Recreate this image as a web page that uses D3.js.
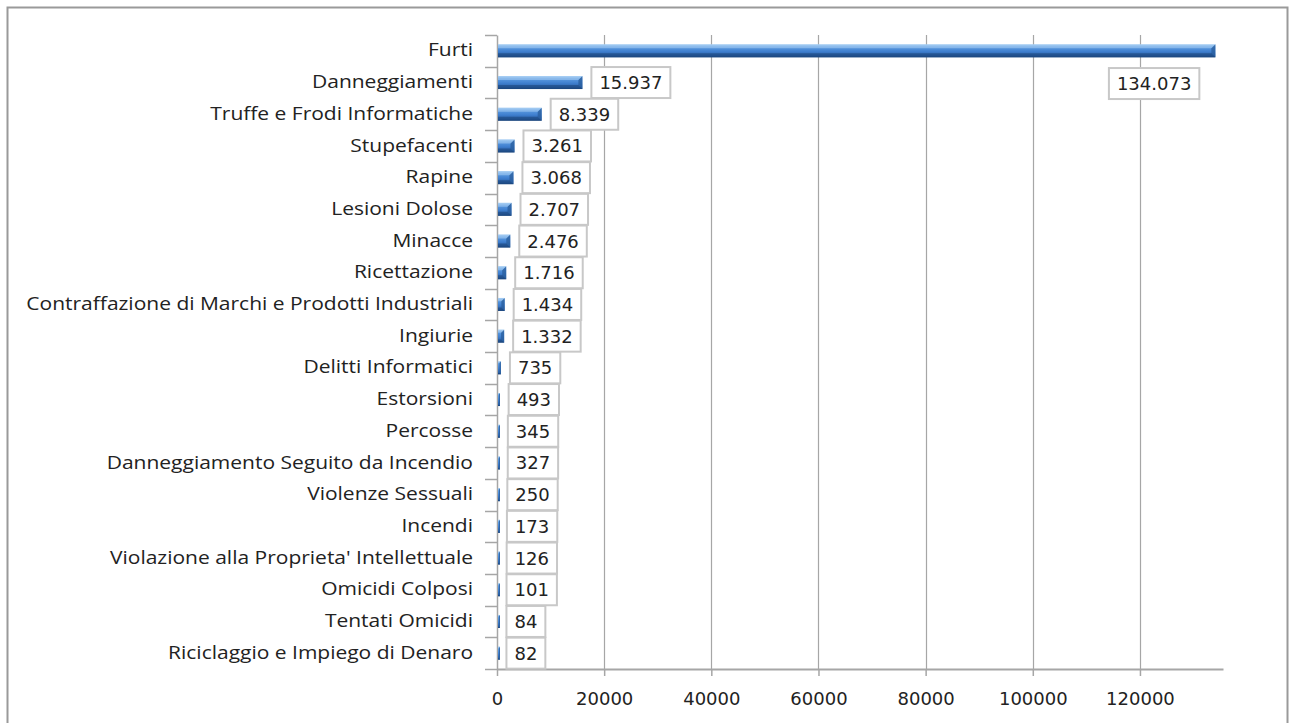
<!DOCTYPE html>
<html><head><meta charset="utf-8">
<script src="https://cdn.jsdelivr.net/npm/d3@7"></script>
<style>body{margin:0;background:#fff}svg{display:block}</style>
</head><body>
<script>
const categories = ["Furti","Danneggiamenti","Truffe e Frodi Informatiche","Stupefacenti","Rapine","Lesioni Dolose","Minacce ","Ricettazione","Contraffazione di Marchi e Prodotti Industriali","Ingiurie","Delitti Informatici","Estorsioni","Percosse","Danneggiamento Seguito da Incendio","Violenze Sessuali","Incendi","Violazione alla Proprieta' Intellettuale","Omicidi Colposi","Tentati Omicidi","Riciclaggio e Impiego di Denaro"];
const values = [134073,15937,8339,3261,3068,2707,2476,1716,1434,1332,735,493,345,327,250,173,126,101,84,82];
const valueLabels = ["134.073","15.937","8.339","3.261","3.068","2.707","2.476","1.716","1.434","1.332","735","493","345","327","250","173","126","101","84","82"];
const xTicks = [0,20000,40000,60000,80000,100000,120000];

const W=1289,H=723;
const svg=d3.select("body").append("svg").attr("width",W).attr("height",H);
const defs=svg.append("defs");
const g1=defs.append("linearGradient").attr("id","barG").attr("x1",0).attr("y1",0).attr("x2",0).attr("y2",1);
[[0,"#9cc8f2"],[0.2,"#5b9ae0"],[0.55,"#3f7fcf"],[0.85,"#2c62a8"],[1,"#1d4a85"]].forEach(s=>g1.append("stop").attr("offset",s[0]).attr("stop-color",s[1]));

// frame
svg.append("rect").attr("x",7.5).attr("y",7.5).attr("width",1280).attr("height",730).attr("fill","#fff").attr("stroke","#9a9a9a").attr("stroke-width",2);

const x=d3.scaleLinear().domain([0,135500]).range([497,1223]);
const y=d3.scaleBand().domain(categories).range([35,669]);

// gridlines
svg.append("g").selectAll("line").data(xTicks.slice(1)).join("line")
  .attr("x1",d=>Math.round(x(d))+0.5).attr("x2",d=>Math.round(x(d))+0.5)
  .attr("y1",35).attr("y2",669).attr("stroke","#a6a6a6").attr("stroke-width",1.2);

// x axis
const xa=svg.append("g").attr("transform","translate(0,669)")
  .call(d3.axisBottom(x).tickValues(xTicks).tickFormat(d3.format("d")).tickSize(7).tickSizeOuter(0));
xa.select(".domain").attr("stroke","#a6a6a6").attr("stroke-width",2);
xa.selectAll(".tick line").attr("stroke","#a6a6a6").attr("stroke-width",1.5);
xa.selectAll(".tick text").attr("font-family","DejaVu Sans").attr("font-size",18).attr("fill","#222").attr("dy","1.45em");

// y axis
const ya=svg.append("g").attr("transform","translate(497,0)")
  .call(d3.axisLeft(y).tickSize(0).tickPadding(24));
ya.select(".domain").attr("stroke","#a6a6a6").attr("stroke-width",1.5);
ya.selectAll(".tick text").attr("font-family","Open Sans").attr("font-size",17.5).attr("fill","#222")
  .attr("x",0).attr("transform","translate(-24,0) scale(1.2,1)");
const bounds=categories.map((c,i)=>y(c)).concat([669]);
svg.append("g").selectAll("line").data(bounds).join("line")
  .attr("x1",485).attr("x2",497).attr("y1",d=>Math.round(d)+0.5).attr("y2",d=>Math.round(d)+0.5)
  .attr("stroke","#a6a6a6").attr("stroke-width",1.5);

// bars
const bh=13;
const bars=svg.append("g");
categories.forEach((c,i)=>{
  const v=values[i];
  const x0=x(0)+1, x1=Math.max(x(v),x0+2);
  const cy=y(c)+y.bandwidth()/2;
  const top=cy-bh/2;
  bars.append("rect").attr("x",x0).attr("y",top).attr("width",x1-x0).attr("height",bh).attr("fill","url(#barG)");
  const bev=Math.min(4,(x1-x0)/2);
  bars.append("path").attr("d",`M${x1-bev},${top+bev} L${x1},${top} L${x1},${top+bh} L${x1-bev},${top+bh-bev} Z`).attr("fill","#2a5f9f").attr("opacity",0.8);
  bars.append("path").attr("d",`M${x0},${top} L${x1},${top} L${x1-bev},${top+bev} L${x0},${top+bev} Z`).attr("fill","#b4d6f6").attr("opacity",0.5);
  bars.append("path").attr("d",`M${x0},${top+bh-bev} L${x1-bev},${top+bh-bev} L${x1},${top+bh} L${x0},${top+bh} Z`).attr("fill","#173f73").attr("opacity",0.5);
});

// labels
const lg=svg.append("g");
categories.forEach((c,i)=>{
  const v=values[i];
  const cy=y(c)+y.bandwidth()/2;
  const t=lg.append("text").attr("font-family","DejaVu Sans").attr("font-size",18).attr("fill","#222").text(valueLabels[i]);
  const tw=t.node().getComputedTextLength();
  const pad=8, bw=tw+pad*2, bhh=31;
  let bx=x(v)+9, by=cy-bhh/2;
  if(bx+bw>1223){ bx=x(v)-16-bw; by=cy+y.bandwidth()-bhh/2+1; }
  lg.insert("rect","text").attr("x",bx).attr("y",by).attr("width",bw).attr("height",bhh).attr("fill","#fff").attr("stroke","#c8c8c8").attr("stroke-width",2);
  t.attr("x",bx+pad).attr("y",by+bhh/2).attr("dy","0.36em");
  t.raise();
});
</script>
</body></html>
